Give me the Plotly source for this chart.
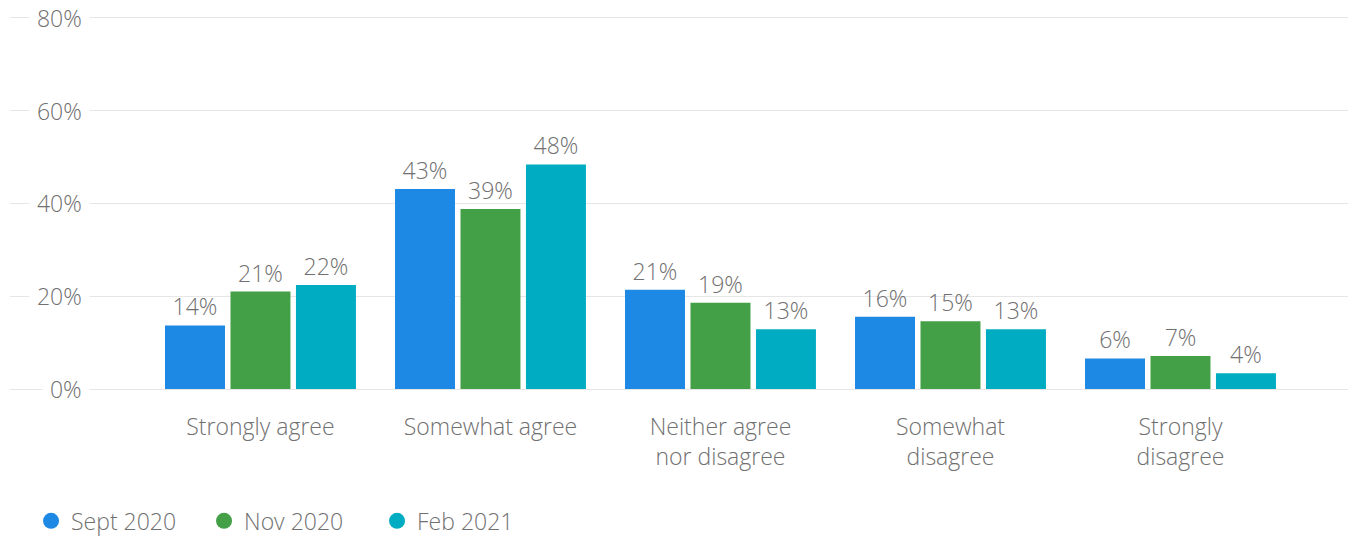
import plotly.graph_objects as go

categories = ["Strongly agree", "Somewhat agree", "Neither agree<br>nor disagree",
              "Somewhat<br>disagree", "Strongly<br>disagree"]
series_names = ["Sept 2020", "Nov 2020", "Feb 2021"]
sept_2020 = [13.7, 43.1, 21.4, 15.6, 6.6]
nov_2020 = [21.0, 38.8, 18.6, 14.6, 7.1]
feb_2021 = [22.4, 48.4, 12.9, 12.9, 3.4]
sept_labels = ["14%", "43%", "21%", "16%", "6%"]
nov_labels = ["21%", "39%", "19%", "15%", "7%"]
feb_labels = ["22%", "48%", "13%", "13%", "4%"]
y_ticks = [0, 20, 40, 60, 80]
y_tick_labels = ["0%", "20%", "40%", "60%", "80%"]

colors = ["#1e88e5", "#43a047", "#00acc1"]
FONT = "Open Sans"
GRAY = "#707070"
FS = 23

fig = go.Figure()
for name, vals, labels, col in zip(series_names, [sept_2020, nov_2020, feb_2021],
                                   [sept_labels, nov_labels, feb_labels], colors):
    fig.add_trace(go.Bar(
        x=categories, y=vals, name=name, marker_color=col,
        marker_line_width=0, showlegend=False,
        text=labels, textposition="outside", cliponaxis=False,
        textfont=dict(family=FONT, size=FS, color=GRAY, weight=300),
        hoverinfo="skip",
    ))
# legend entries with round markers
for name, col in zip(series_names, colors):
    fig.add_trace(go.Scatter(
        x=[None], y=[None], mode="markers", name=name,
        marker=dict(symbol="circle", size=17, color=col), hoverinfo="skip",
    ))

for v, t in zip(y_ticks, y_tick_labels):
    fig.add_annotation(x=0.0597, xref="paper", y=v, yref="y",
                       text="&nbsp;" + t + "&nbsp;",
                       showarrow=False, xanchor="right", bgcolor="white",
                       borderpad=1, height=20, valign="middle",
                       font=dict(family=FONT, size=FS, color=GRAY, weight=300))

fig.update_layout(
    width=1356, height=537,
    margin=dict(l=2, r=14, t=8, b=154),
    paper_bgcolor="white", plot_bgcolor="white",
    barmode="group", bargap=0.146, bargroupgap=0.084,
    font=dict(family=FONT, size=FS, color=GRAY, weight=300),
    showlegend=True,
    legend=dict(orientation="h", x=0.0157, xanchor="left", y=-0.296, yanchor="top",
                font=dict(family=FONT, size=FS, color=GRAY, weight=300),
                traceorder="normal", entrywidth=128),
    xaxis=dict(range=[-1.089, 4.737], showgrid=False, zeroline=False,
               showline=False, ticks="", ticklabelstandoff=22,
               tickfont=dict(family=FONT, size=FS, color=GRAY, weight=300)),
    yaxis=dict(range=[0, 80.4], tickvals=y_ticks, showticklabels=False,
               showgrid=True, gridcolor="#e6e6e6", gridwidth=1,
               zeroline=True, zerolinecolor="#e6e6e6", zerolinewidth=1,
               showline=False),
)

fig.write_html("out.html")
